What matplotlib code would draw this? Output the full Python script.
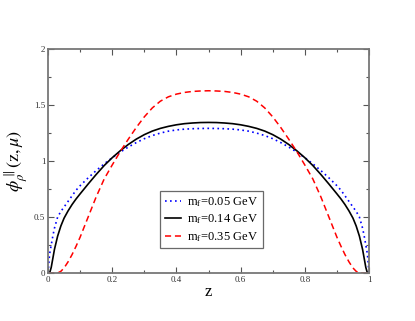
import matplotlib
matplotlib.use("Agg")
import matplotlib.pyplot as plt
from matplotlib.ticker import MultipleLocator

plt.rcParams['font.family'] = ['Liberation Serif', 'DejaVu Serif']
plt.rcParams['mathtext.fontset'] = 'stix'

# valores
z = [0, 0.005, 0.01, 0.015, 0.02, 0.03, 0.04, 0.05, 0.0625, 0.075, 0.0875, 0.1,
     0.125, 0.15, 0.175, 0.2, 0.225, 0.25, 0.275, 0.3, 0.325, 0.35, 0.375, 0.4,
     0.425, 0.45, 0.475, 0.5,
     0.525, 0.55, 0.575, 0.6, 0.625, 0.65, 0.675, 0.7, 0.725, 0.75, 0.775, 0.8,
     0.825, 0.85, 0.875, 0.9, 0.9125, 0.925, 0.9375, 0.95, 0.96, 0.97, 0.98,
     0.985, 0.99, 0.995, 1.0]

phi_005 = [0, 0.17, 0.25, 0.33, 0.40, 0.50, 0.55, 0.59, 0.64, 0.69, 0.74, 0.78,
           0.85, 0.915, 0.975, 1.03, 1.08, 1.125, 1.165, 1.2, 1.228, 1.25, 1.267, 1.278,
           1.285, 1.289, 1.291, 1.292,
           1.291, 1.289, 1.285, 1.278, 1.267, 1.25, 1.228, 1.2, 1.165, 1.125, 1.08, 1.03,
           0.975, 0.915, 0.85, 0.78, 0.74, 0.69, 0.64, 0.59, 0.55, 0.50, 0.40,
           0.33, 0.25, 0.17, 0]

phi_014 = [0, 0, 0.05, 0.13, 0.21, 0.33, 0.42, 0.49, 0.555, 0.612, 0.662, 0.707,
           0.795, 0.88, 0.96, 1.03, 1.092, 1.148, 1.196, 1.236, 1.268, 1.292, 1.31, 1.324,
           1.334, 1.34, 1.344, 1.345,
           1.344, 1.34, 1.334, 1.324, 1.31, 1.292, 1.268, 1.236, 1.196, 1.148, 1.092, 1.03,
           0.96, 0.88, 0.795, 0.707, 0.662, 0.612, 0.555, 0.49, 0.42, 0.33, 0.21,
           0.13, 0.05, 0, 0]

phi_035 = [0, 0, 0, 0, 0, 0, 0.015, 0.045, 0.1, 0.165, 0.24, 0.32,
           0.5, 0.68, 0.84, 0.965, 1.085, 1.195, 1.3, 1.395, 1.475, 1.535, 1.574, 1.598,
           1.613, 1.622, 1.626, 1.628,
           1.626, 1.622, 1.613, 1.598, 1.574, 1.535, 1.475, 1.395, 1.3, 1.195, 1.085, 0.965,
           0.84, 0.68, 0.5, 0.32, 0.24, 0.165, 0.1, 0.045, 0.015, 0, 0,
           0, 0, 0, 0]

etiquetas = [r'm$_\mathrm{f}$=0.05 GeV', r'm$_\mathrm{f}$=0.14 GeV', r'm$_\mathrm{f}$=0.35 GeV']

fig = plt.figure(figsize=(4.15, 3.21), dpi=100)
ax = fig.add_axes([0.1157, 0.1495, 0.7735, 0.6975])

ax.plot(z, phi_005, color='#0000ff', ls=(0, (1, 2)), lw=1.2, label=etiquetas[0])
ax.plot(z, phi_014, color='black', ls='-', lw=1.2, label=etiquetas[1])
ax.plot(z, phi_035, color='#ff0000', ls=(0, (4, 2.5)), lw=1.1, label=etiquetas[2])

ax.set_xlim(0, 1)
ax.set_ylim(0, 2)
ax.xaxis.set_minor_locator(MultipleLocator(0.1))
ax.yaxis.set_minor_locator(MultipleLocator(0.25))
ax.set_xticks([0, 0.2, 0.4, 0.6, 0.8, 1.0], ['0', '0.2', '0.4', '0.6', '0.8', '1'])
ax.set_yticks([0, 0.5, 1, 1.5, 2], ['0', '0.5', '1', '1.5', '2'])

for s in ax.spines.values():
    s.set_color('#777777')
    s.set_linewidth(1.3)
ax.tick_params(which='both', direction='in', top=True, right=True,
               color='#555555', labelsize=6.5, labelcolor='#333333', pad=2)
ax.tick_params(which='major', length=4.5, width=0.8)
ax.tick_params(which='minor', length=2.3, width=0.8)

ax.set_xlabel('z', fontsize=12, labelpad=0)
ax.set_ylabel(r'$\phi^{\parallel}_{\rho}\mathrm{(z,}\mu\mathrm{)}$', fontsize=13, labelpad=3)

leg = ax.legend(loc='lower left', bbox_to_anchor=(0.35, 0.11), fontsize=9,
                frameon=True, fancybox=False, handlelength=1.3, handletextpad=0.5,
                borderpad=0.35, labelspacing=0.3, borderaxespad=0)
leg.get_frame().set_edgecolor('#444444')
leg.get_frame().set_linewidth(0.9)

fig.savefig('out.png', dpi=100)
